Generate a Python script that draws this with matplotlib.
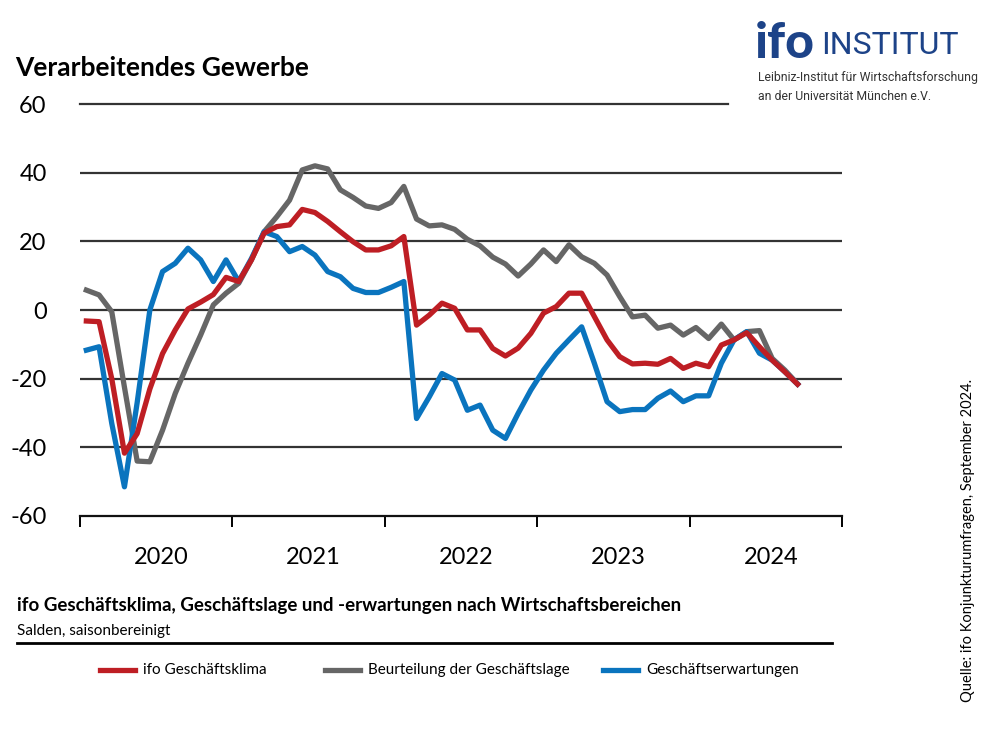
import matplotlib
matplotlib.use("Agg")
import matplotlib.pyplot as plt
import numpy as np

plt.rcParams['font.family'] = ['Lato', 'DejaVu Sans']

# monthly values Jan 2020 - Sep 2024
klima = [-3.2, -3.4, -20, -41.7, -36, -23, -12.7, -5.8, 0.3, 2.3, 4.5, 9.5,
         8.3, 14.6, 22.4, 24.3, 24.8, 29.3, 28.4, 25.8, 22.8, 19.9, 17.5, 17.5,
         18.7, 21.4, -4.4, -1.5, 2.0, 0.5, -5.8, -5.8, -11.2, -13.4, -11.1, -6.8,
         -0.9, 1.0, 4.9, 4.9, -1.9, -8.7, -13.6, -15.7, -15.5, -15.8, -14.1, -17.0,
         -15.5, -16.5, -10.2, -8.7, -6.6, -10.7, -14.6, -18.0, -21.6]
lage = [5.8, 4.4, -0.5, -22.5, -44, -44.2, -35, -24.3, -15.5, -7.3, 1.5, 4.9,
        7.8, 14.6, 22.8, 27.2, 32, 40.8, 42, 41.1, 35, 32.8, 30.3, 29.6,
        31.3, 36, 26.5, 24.5, 24.8, 23.5, 20.6, 18.7, 15.4, 13.4, 9.9, 13.4,
        17.5, 14.1, 19, 15.5, 13.6, 10.2, 3.9, -2.0, -1.5, -5.3, -4.4, -7.3,
        -5.1, -8.3, -4.1, -8.7, -6.3, -6.0, -14.1, -17.5, -21.5]
erwartungen = [-11.7, -10.7, -33, -51.5, -27, 0, 11.2, 13.6, 18, 14.6, 8.3, 14.6,
               8.3, 15, 22.8, 21.4, 17, 18.5, 16, 11.2, 9.7, 6.3, 5.1, 5.1,
               6.6, 8.3, -31.6, -25.3, -18.5, -20.4, -29.2, -27.7, -35, -37.4, -30.1, -23.3,
               -17.5, -12.6, -8.7, -4.9, -15.5, -26.7, -29.6, -29.0, -29.0, -25.7, -23.6, -26.7,
               -25.0, -25.0, -15.5, -8.7, -6.3, -12.6, -14.6, -18.0, -21.6]
years = ['2020', '2021', '2022', '2023', '2024']
yticks = [-60, -40, -20, 0, 20, 40, 60]
series_names = ['ifo Geschäftsklima', 'Beurteilung der Geschäftslage', 'Geschäftserwartungen']

c_red = '#be1e24'
c_gray = '#666666'
c_blue = '#0a74be'

fig = plt.figure(figsize=(10, 7.5), dpi=100)
ax = fig.add_axes([0.08, 0.312, 0.762, 0.5493])

x = np.arange(len(klima))
ax.plot(x, lage, color=c_gray, lw=3.8, solid_joinstyle='round', zorder=3)
ax.plot(x, erwartungen, color=c_blue, lw=3.8, solid_joinstyle='round', zorder=4)
ax.plot(x, klima, color=c_red, lw=3.8, solid_joinstyle='round', zorder=5)

ax.set_xlim(-0.5, 59.5)
ax.set_ylim(-60, 60)

# gridlines (top one shorter because of the logo)
for v in yticks[1:-1]:
    ax.axhline(v, color='#333333', lw=1.6, zorder=1)
ax.plot([-0.5, 50.5], [60, 60], color='#333333', lw=1.6, zorder=1, clip_on=False)

for s in ['top', 'right', 'left']:
    ax.spines[s].set_visible(False)
ax.spines['bottom'].set_linewidth(1.6)
ax.spines['bottom'].set_color('#111111')

ax.set_yticks(yticks)
ax.set_yticklabels([str(v) for v in yticks], fontsize=17)
ax.tick_params(axis='y', length=0, pad=24)
ax.set_xticks(np.arange(-0.5, 60, 12))
ax.set_xticklabels([])
ax.tick_params(axis='x', length=8, width=1.4, direction='out')
ax.set_xticks(np.arange(5.9, 60, 12), minor=True)
ax.set_xticklabels(years, minor=True, fontsize=17)
ax.tick_params(axis='x', which='minor', length=0, pad=22)

fig.text(0.015, 0.91, 'Verarbeitendes Gewerbe', fontsize=19, fontweight='bold',
         ha='left', va='center')

# logo
fig.text(0.755, 0.942, 'ifo', fontsize=36, fontweight='black', color='#1d4388',
         ha='left', va='center')
fig.text(0.821, 0.94, 'INSTITUT', fontsize=23, color='#1d4388',
         ha='left', va='center', family=['Roboto', 'DejaVu Sans'])
fig.text(0.758, 0.897, 'Leibniz-Institut für Wirtschaftsforschung', fontsize=8.8,
         color='#333333', ha='left', va='center', family=['Roboto', 'DejaVu Sans'])
fig.text(0.758, 0.871, 'an der Universität München e.V.', fontsize=8.8,
         color='#333333', ha='left', va='center', family=['Roboto', 'DejaVu Sans'])

fig.text(0.017, 0.192, 'ifo Geschäftsklima, Geschäftslage und -erwartungen nach Wirtschaftsbereichen',
         fontsize=13.5, fontweight='bold', ha='left', va='center')
fig.text(0.017, 0.159, 'Salden, saisonbereinigt', fontsize=11, ha='left', va='center')
fig.add_artist(plt.Line2D([0.017, 0.832], [0.143, 0.143], color='black', lw=2,
                          transform=fig.transFigure))

# legend
leg_x = [0.100, 0.325, 0.603]
colors = [c_red, c_gray, c_blue]
for lx, c, name in zip(leg_x, colors, series_names):
    fig.add_artist(plt.Line2D([lx, lx + 0.035], [0.107, 0.107], color=c, lw=3.8,
                              transform=fig.transFigure))
    fig.text(lx + 0.043, 0.107, name, fontsize=11, ha='left', va='center')

fig.text(0.968, 0.28, 'Quelle: ifo Konjunkturumfragen, September 2024.', fontsize=10.5,
         rotation=90, ha='center', va='center')

fig.savefig('out.png', dpi=100)
